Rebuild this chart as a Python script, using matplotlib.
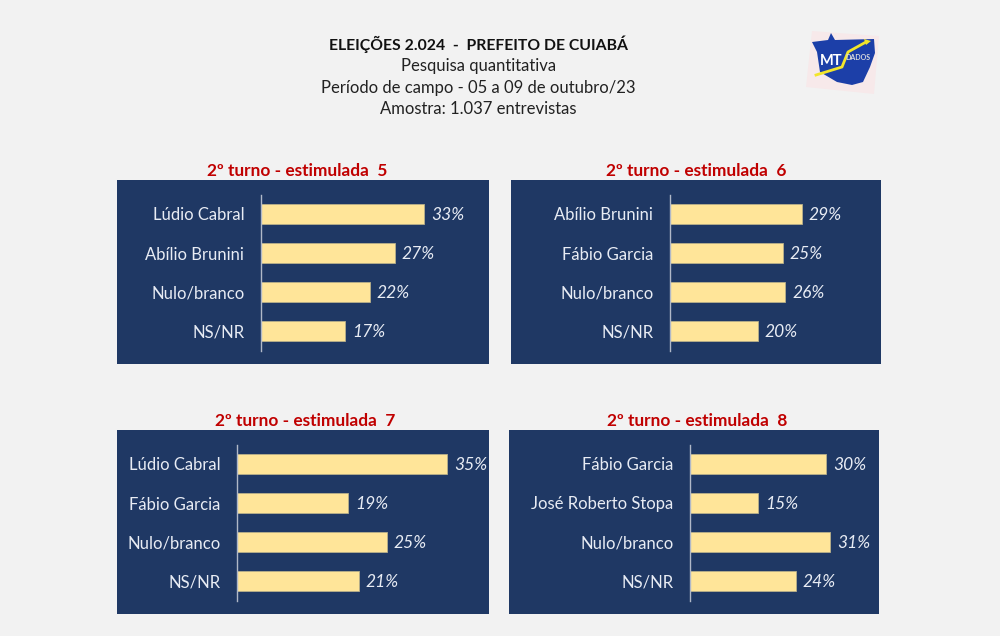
import matplotlib
matplotlib.use("Agg")
import matplotlib.pyplot as plt
from matplotlib.patches import Rectangle, Polygon

W, H = 1000, 636

# pesquisa
titles = ["2º turno - estimulada  5", "2º turno - estimulada  6",
          "2º turno - estimulada  7", "2º turno - estimulada  8"]
names_5 = ["Lúdio Cabral", "Abílio Brunini", "Nulo/branco", "NS/NR"]
names_6 = ["Abílio Brunini", "Fábio Garcia", "Nulo/branco", "NS/NR"]
names_7 = ["Lúdio Cabral", "Fábio Garcia", "Nulo/branco", "NS/NR"]
names_8 = ["Fábio Garcia", "José Roberto Stopa", "Nulo/branco", "NS/NR"]
# percentuais impressos (arredondados)
vals_5 = [33, 27, 22, 17]
vals_6 = [29, 25, 26, 20]
vals_7 = [35, 19, 25, 21]
vals_8 = [30, 15, 31, 24]
# comprimento das barras
bars_5 = [33, 27, 22, 17]
bars_6 = [29, 24.8, 25.3, 19.3]
bars_7 = [35, 18.5, 25, 20.3]
bars_8 = [30, 15, 30.9, 23.4]

plt.rcParams['font.family'] = ['Lato', 'DejaVu Sans']

navy = "#1f3864"
bar_col = "#ffe599"
fig = plt.figure(figsize=(W / 100, H / 100), dpi=100, facecolor="#f2f2f2")


def px_rect(x0, y0, x1, y1):
    # pixels da imagem (y para baixo) -> fracao da figura
    return [x0 / W, 1 - y1 / H, (x1 - x0) / W, (y1 - y0) / H]


def fx(x, y):
    return x / W, 1 - y / H


# cabecalho
fig.text(*fx(478.5, 44), "ELEIÇÕES 2.024  -  PREFEITO DE CUIABÁ", ha="center", va="center",
         fontsize=11.3, fontweight="bold", color="#111111")
fig.text(*fx(478.5, 65.5), "Pesquisa quantitativa", ha="center", va="center", fontsize=12, color="#222222")
fig.text(*fx(478.5, 87.5), "Período de campo - 05 a 09 de outubro/23", ha="center", va="center",
         fontsize=12, color="#222222")
fig.text(*fx(478.5, 109.5), "Amostra: 1.037 entrevistas", ha="center", va="center", fontsize=12, color="#222222")


def panel(box, axis_x, px_per_pct, title, title_x, names, vals, bars):
    x0, y0, x1, y1 = box
    fig.add_artist(Rectangle((x0 / W, 1 - y1 / H), (x1 - x0) / W, (y1 - y0) / H,
                             transform=fig.transFigure, facecolor=navy, edgecolor="none", zorder=-1))
    fig.text(*fx(title_x, y0 - 9), title, ha="center", va="center", fontsize=12.4,
             fontweight="bold", color="#c00000")
    ax = fig.add_axes(px_rect(axis_x, y0 + 14.5, x1, y1 - 13.5))
    ax.patch.set_alpha(0)
    ax.barh(range(4), bars, height=0.49, color=bar_col, edgecolor="#b8b08a", linewidth=0.6)
    ax.set_ylim(3.5, -0.5)
    ax.set_xlim(0, (x1 - axis_x) / px_per_pct)
    ax.set_yticks(range(4))
    ax.set_yticklabels(names, fontsize=12, color="#e8ecf4")
    ax.set_xticks([])
    ax.tick_params(axis="y", length=0, pad=12)
    for s in ["top", "right", "bottom"]:
        ax.spines[s].set_visible(False)
    ax.spines["left"].set_color("#b0b8c8")
    ax.spines["left"].set_linewidth(1)
    for i, v in enumerate(vals):
        ax.annotate(f"{v}%", (bars[i], i), xytext=(5, -1), textcoords="offset points", va="center",
                    fontsize=12.5, style="italic", color="#e8ecf4")


panel((117, 180, 489, 364), 261, 4.95, titles[0], 297, names_5, vals_5, bars_5)
panel((511, 180, 881, 364), 670, 4.55, titles[1], 696, names_6, vals_6, bars_6)
panel((117, 430, 489, 614), 237, 6.0, titles[2], 305, names_7, vals_7, bars_7)
panel((509, 430, 879, 614), 690, 4.53, titles[3], 697, names_8, vals_8, bars_8)

# logo
def logo_pts(pts):
    return [fx(x, y) for x, y in pts]


fig.add_artist(Polygon(logo_pts([(812, 31), (879, 36), (874, 94), (806, 87)]), closed=True,
                       transform=fig.transFigure, facecolor="#f7e9ea", edgecolor="none"))
fig.add_artist(Polygon(logo_pts([(812, 42), (828, 40), (831, 33), (835, 40), (874, 39), (875, 53), (870, 67),
                                 (863, 82), (852, 85), (837, 82), (820, 72), (817, 52)]),
                       closed=True, transform=fig.transFigure, facecolor="#1c3fa8", edgecolor="none"))
fig.add_artist(plt.Line2D(*zip(*logo_pts([(816, 75), (842, 67), (848, 52), (866, 42)])),
                          transform=fig.transFigure, color="#f2e52a", linewidth=2))
fig.add_artist(Polygon(logo_pts([(864, 39), (871, 41), (866, 45)]), closed=True,
                       transform=fig.transFigure, facecolor="#f2e52a", edgecolor="none"))
fig.text(*fx(831, 61), "MT", ha="center", va="center", fontsize=10.5, fontweight="bold", color="white")
fig.text(*fx(858, 57), "DADOS", ha="center", va="center", fontsize=5, fontweight="bold", color="#dddddd")

fig.savefig("out.png", dpi=100, facecolor=fig.get_facecolor())
